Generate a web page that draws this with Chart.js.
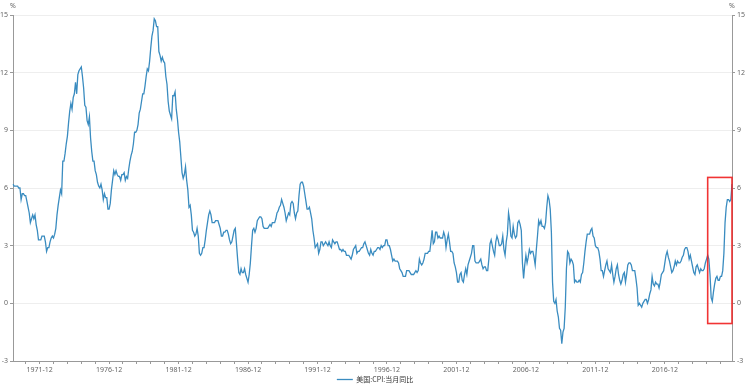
<!DOCTYPE html>
<html lang="zh">
<head>
  <meta charset="UTF-8" />
  <title>美国:CPI:当月同比</title>
  <script src="https://cdn.jsdelivr.net/npm/chart.js"></script>
  <style>
    body {
      margin: 0;
      background: #fff;
    }
    .wrap {
      position: relative;
      width: 750px;
      height: 389px;
    }
  </style>
</head>
<body>

<div class="wrap">
  <canvas id="cpiChart" width="750" height="389"></canvas>
</div>

<script>
  // monthly data, 1970-01 .. 2021-10
  const startYear = 1970;
  const seriesName = '美国:CPI:当月同比';
  const cpiYoY = [
    6.2, 6.1, 6.1, 6.1, 6.1, 6.0, 6.0, 5.4, 5.7, 5.7, 5.6, 5.6,        // 1970
    5.3, 5.0, 4.7, 4.2, 4.4, 4.6, 4.4, 4.6, 4.1, 3.8, 3.3, 3.3,        // 1971
    3.3, 3.5, 3.5, 3.5, 3.2, 2.7, 2.9, 2.9, 3.2, 3.4, 3.5, 3.4,        // 1972
    3.6, 3.9, 4.6, 5.1, 5.5, 5.9, 5.7, 7.4, 7.4, 7.8, 8.3, 8.7,        // 1973
    9.4, 10.0, 10.4, 10.1, 10.7, 10.9, 11.5, 10.9, 11.9, 12.1, 12.2, 12.3, // 1974
    11.8, 11.2, 10.3, 10.2, 9.5, 9.3, 9.7, 8.6, 7.9, 7.4, 7.4, 6.9,    // 1975
    6.7, 6.3, 6.1, 6.0, 6.2, 5.9, 5.4, 5.7, 5.5, 5.5, 4.9, 4.9,        // 1976
    5.2, 5.9, 6.4, 6.9, 6.7, 6.9, 6.7, 6.6, 6.6, 6.4, 6.7, 6.7,        // 1977
    6.8, 6.4, 6.6, 6.5, 7.0, 7.4, 7.7, 7.9, 8.3, 8.9, 8.9, 9.0,        // 1978
    9.3, 9.9, 10.1, 10.5, 10.9, 10.9, 11.3, 11.8, 12.2, 12.1, 12.6, 13.3, // 1979
    13.9, 14.2, 14.8, 14.7, 14.4, 14.4, 13.1, 12.9, 12.6, 12.8, 12.6, 12.5, // 1980
    11.8, 11.4, 10.5, 10.0, 9.8, 9.6, 10.8, 10.8, 11.0, 10.1, 9.6, 8.9, // 1981
    8.4, 7.6, 6.8, 6.5, 6.7, 7.1, 6.4, 5.9, 5.0, 5.1, 4.6, 3.8,        // 1982
    3.7, 3.5, 3.6, 3.9, 3.5, 2.6, 2.5, 2.6, 2.9, 2.9, 3.3, 3.8,        // 1983
    4.2, 4.6, 4.8, 4.6, 4.2, 4.2, 4.2, 4.3, 4.3, 4.3, 4.1, 3.9,        // 1984
    3.5, 3.5, 3.7, 3.7, 3.8, 3.8, 3.6, 3.3, 3.1, 3.2, 3.5, 3.8,        // 1985
    3.9, 3.1, 2.3, 1.6, 1.5, 1.8, 1.6, 1.6, 1.8, 1.5, 1.3, 1.1,        // 1986
    1.5, 2.1, 3.0, 3.8, 3.9, 3.7, 3.9, 4.3, 4.4, 4.5, 4.5, 4.4,        // 1987
    4.0, 3.9, 3.9, 3.9, 3.9, 4.0, 4.1, 4.0, 4.2, 4.2, 4.2, 4.4,        // 1988
    4.7, 4.8, 5.0, 5.1, 5.4, 5.2, 5.0, 4.7, 4.3, 4.5, 4.7, 4.6,        // 1989
    5.2, 5.3, 5.2, 4.7, 4.4, 4.7, 4.8, 5.6, 6.2, 6.3, 6.3, 6.1,        // 1990
    5.7, 5.3, 4.9, 4.9, 5.0, 4.7, 4.4, 3.8, 3.4, 2.9, 3.0, 3.1,        // 1991
    2.6, 2.8, 3.2, 3.2, 3.0, 3.1, 3.2, 3.1, 3.0, 3.2, 3.0, 2.9,        // 1992
    3.3, 3.2, 3.1, 3.2, 3.2, 3.0, 2.8, 2.8, 2.7, 2.8, 2.7, 2.7,        // 1993
    2.5, 2.5, 2.5, 2.4, 2.3, 2.5, 2.8, 2.9, 3.0, 2.6, 2.7, 2.7,        // 1994
    2.8, 2.9, 2.9, 3.1, 3.2, 3.0, 2.8, 2.6, 2.5, 2.8, 2.6, 2.5,        // 1995
    2.7, 2.7, 2.8, 2.9, 2.9, 2.8, 3.0, 2.9, 3.0, 3.0, 3.3, 3.3,        // 1996
    3.0, 3.0, 2.8, 2.5, 2.2, 2.3, 2.2, 2.2, 2.2, 2.1, 1.8, 1.7,        // 1997
    1.6, 1.4, 1.4, 1.4, 1.7, 1.7, 1.7, 1.6, 1.5, 1.5, 1.5, 1.6,        // 1998
    1.7, 1.6, 1.7, 2.3, 2.1, 2.0, 2.1, 2.3, 2.6, 2.6, 2.6, 2.7,        // 1999
    2.7, 3.2, 3.8, 3.1, 3.2, 3.7, 3.7, 3.4, 3.5, 3.4, 3.4, 3.4,        // 2000
    3.7, 3.5, 2.9, 3.3, 3.6, 3.2, 2.7, 2.7, 2.6, 2.1, 1.9, 1.6,        // 2001
    1.1, 1.1, 1.5, 1.6, 1.2, 1.1, 1.5, 1.8, 1.5, 2.0, 2.2, 2.4,        // 2002
    2.6, 3.0, 3.0, 2.2, 2.1, 2.1, 2.1, 2.2, 2.3, 2.0, 1.8, 1.9,        // 2003
    1.9, 1.7, 1.7, 2.3, 3.1, 3.3, 3.0, 2.7, 2.5, 3.2, 3.5, 3.3,        // 2004
    3.0, 3.0, 3.1, 3.5, 2.8, 2.5, 3.2, 3.6, 4.7, 4.3, 3.5, 3.4,        // 2005
    4.0, 3.6, 3.4, 3.5, 4.2, 4.3, 4.1, 3.8, 2.1, 1.3, 2.0, 2.5,        // 2006
    2.1, 2.4, 2.8, 2.6, 2.7, 2.7, 2.4, 2.0, 2.8, 3.5, 4.3, 4.1,        // 2007
    4.3, 4.0, 4.0, 3.9, 4.2, 5.0, 5.6, 5.4, 4.9, 3.7, 1.1, 0.1,        // 2008
    0.0, 0.2, -0.4, -0.7, -1.3, -1.4, -2.1, -1.5, -1.3, -0.2, 1.8, 2.7, // 2009
    2.6, 2.1, 2.3, 2.2, 2.0, 1.1, 1.2, 1.1, 1.1, 1.2, 1.1, 1.5,        // 2010
    1.6, 2.1, 2.7, 3.2, 3.6, 3.6, 3.6, 3.8, 3.9, 3.5, 3.4, 3.0,        // 2011
    2.9, 2.9, 2.7, 2.3, 1.7, 1.7, 1.4, 1.7, 2.0, 2.2, 1.8, 1.7,        // 2012
    1.6, 2.0, 1.5, 1.1, 1.4, 1.8, 2.0, 1.5, 1.2, 1.0, 1.2, 1.5,        // 2013
    1.6, 1.1, 1.5, 2.0, 2.1, 2.1, 2.0, 1.7, 1.7, 1.7, 1.3, 0.8,        // 2014
    -0.1, 0.0, -0.1, -0.2, 0.0, 0.1, 0.2, 0.2, 0.0, 0.2, 0.5, 0.7,     // 2015
    1.4, 1.0, 0.9, 1.1, 1.0, 1.0, 0.8, 1.1, 1.5, 1.6, 1.7, 2.1,        // 2016
    2.5, 2.7, 2.4, 2.2, 1.9, 1.6, 1.7, 1.9, 2.2, 2.0, 2.2, 2.1,        // 2017
    2.1, 2.2, 2.4, 2.5, 2.8, 2.9, 2.9, 2.7, 2.3, 2.5, 2.2, 1.9,        // 2018
    1.6, 1.5, 1.9, 2.0, 1.8, 1.6, 1.8, 1.7, 1.7, 1.8, 2.1, 2.3,        // 2019
    2.5, 2.3, 1.5, 0.3, 0.1, 0.6, 1.0, 1.3, 1.4, 1.2, 1.2, 1.4,        // 2020
    1.4, 1.7, 2.6, 4.2, 5.0, 5.4, 5.4, 5.3, 5.4, 6.2                   // 2021
  ];
  const yTicks = [-3, 0, 3, 6, 9, 12, 15];
  // highlighted box (red frame) in data units
  const boxFrom = '2020-01';
  const boxTo = '2021-10';
  const boxTop = 6.55;
  const boxBottom = -1.05;

  const months = cpiYoY.map((v, i) => {
    const y = startYear + Math.floor(i / 12);
    const m = (i % 12) + 1;
    return y + '-' + (m < 10 ? '0' + m : m);
  });

  Chart.defaults.font.family = "'Noto Sans', 'Noto Sans CJK SC', sans-serif";
  Chart.defaults.font.size = 7;
  Chart.defaults.color = '#666';

  // red frame + "%" unit labels
  const extras = {
    id: 'extras',
    afterDatasetsDraw(chart) {
      const { ctx, scales } = chart;
      const x1 = scales.x.getPixelForValue(months.indexOf(boxFrom));
      const x2 = scales.x.getPixelForValue(months.indexOf(boxTo));
      const y1 = scales.y.getPixelForValue(boxTop);
      const y2 = scales.y.getPixelForValue(boxBottom);
      ctx.save();
      ctx.strokeStyle = 'rgba(240, 30, 30, 0.9)';
      ctx.lineWidth = 1.6;
      ctx.strokeRect(x1, y1, x2 - x1, y2 - y1);
      ctx.restore();
    },
    afterDraw(chart) {
      const { ctx, scales, chartArea } = chart;
      ctx.save();
      ctx.fillStyle = '#666';
      ctx.font = "7px 'Noto Sans', sans-serif";
      ctx.textAlign = 'center';
      ctx.textBaseline = 'middle';
      ctx.fillText('%', scales.y.right, chartArea.top - 9);
      ctx.fillText('%', scales.y2.left, chartArea.top - 9);
      ctx.restore();
    }
  };

  const yAxis = (pos) => ({
    position: pos,
    min: -3,
    max: 15,
    afterBuildTicks: s => { s.ticks = yTicks.map(v => ({ value: v })); },
    grid: {
      display: true,
      drawOnChartArea: pos === 'left',
      color: '#eee',
      tickColor: '#999',
      tickLength: 3
    },
    border: { color: '#999' },
    ticks: { padding: 2, color: '#666' },
    afterFit: s => { s.width = pos === 'left' ? 13 : 18; }
  });

  new Chart(document.getElementById('cpiChart'), {
    type: 'line',
    data: {
      labels: months,
      datasets: [{
        label: seriesName,
        data: cpiYoY,
        borderColor: '#3a8cc0',
        backgroundColor: '#3a8cc0',
        borderWidth: 1.3,
        pointRadius: 0,
        tension: 0,
        yAxisID: 'y'
      }]
    },
    options: {
      responsive: false,
      animation: false,
      layout: { padding: { top: 15, bottom: 0, left: 0, right: 0 } },
      plugins: {
        legend: {
          position: 'bottom',
          maxHeight: 15,
          labels: {
            usePointStyle: true,
            pointStyle: 'line',
            pointStyleWidth: 16,
            boxHeight: 6,
            padding: 2,
            color: '#333',
            font: { size: 7, family: "'Noto Sans CJK SC', sans-serif" }
          }
        },
        tooltip: { enabled: false }
      },
      scales: {
        x: {
          afterBuildTicks: s => {
            s.ticks = s.ticks.filter(t => months[t.value].endsWith('-12'));
          },
          afterFit: s => { s.height = 13; },
          grid: {
            display: true,
            drawOnChartArea: false,
            tickColor: '#999',
            tickLength: 3
          },
          border: { color: '#999' },
          ticks: {
            autoSkip: false,
            maxRotation: 0,
            padding: 2,
            color: '#666',
            callback: v => {
              const yr = +months[v].slice(0, 4);
              return (yr - 1971) % 5 === 0 ? months[v] : '';
            }
          }
        },
        y: yAxis('left'),
        y2: yAxis('right')
      }
    },
    plugins: [extras]
  });
</script>
</body>
</html>
